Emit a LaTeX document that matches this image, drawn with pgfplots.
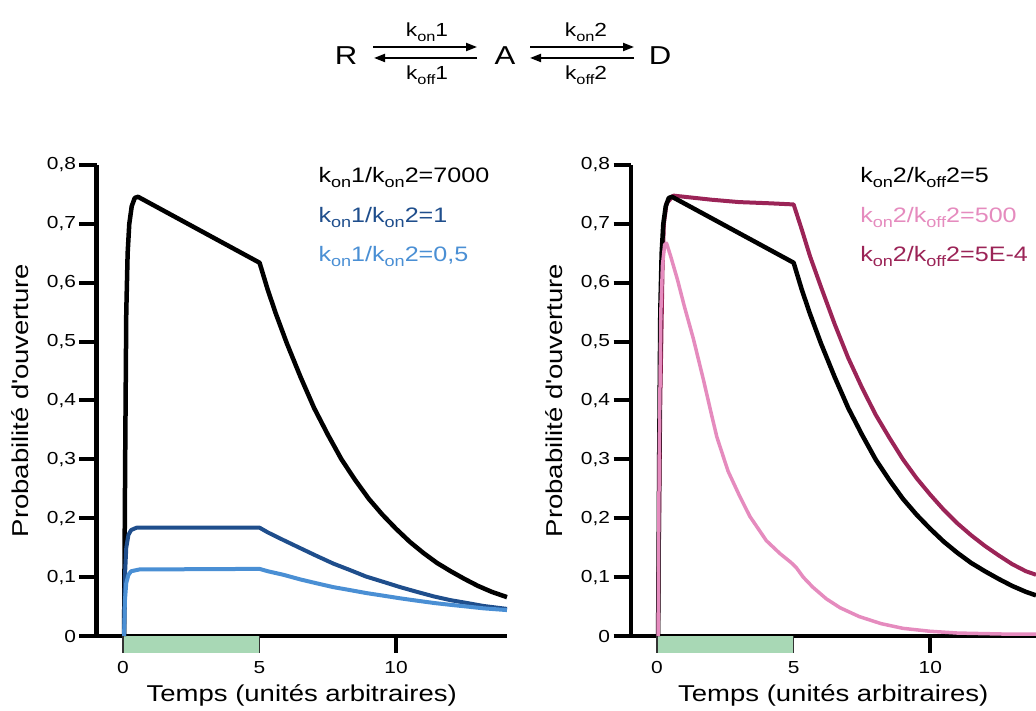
\documentclass[border=0pt]{standalone}
\usepackage{pgfplots}
\pgfplotsset{compat=1.18}
\usepackage{fontspec}
\setmainfont{Liberation Sans}[FakeStretch=1.2]
\usetikzlibrary{arrows.meta}
\definecolor{dblue}{RGB}{31,78,140}
\definecolor{lblue}{RGB}{74,143,212}
\definecolor{pinkc}{RGB}{229,139,190}
\definecolor{magc}{RGB}{155,36,87}
\definecolor{greenbar}{RGB}{168,216,181}
\newcommand{\ks}[1]{k\raisebox{-0.22em}{\scalebox{0.72}{#1}}}
\pgfplotsset{
  common/.style={
    scale only axis, height=471bp,
    ymin=0, ymax=0.8, xmin=-0.97,
    axis x line=bottom, axis y line=left,
    axis line style={line width=4bp, -},
    ytick={0,0.1,...,0.8},
    xtick={0,5,10},
    tick align=outside,
    major tick length=17bp,
    ytick style={line width=4bp, black},
    xtick style={draw=none},
    /pgf/number format/assume math mode=true,
    /pgf/number format/use comma,
    yticklabel style={font=\fontsize{17.5}{20}\selectfont, /pgf/number format/fixed},
    xticklabel style={font=\fontsize{17.5}{20}\selectfont, yshift=-5bp},
    label style={font=\fontsize{23}{27}\selectfont},
    xlabel={Temps (unités arbitraires)},
    ylabel={Probabilité d\textquotesingle ouverture},
    ylabel style={yshift=11bp},
    xlabel style={yshift=-4bp},
    clip=false,
  }
}
\begin{document}
\begin{tikzpicture}
\path[use as bounding box] (0bp,0bp) rectangle (1036bp,711bp);
% scheme
\begin{scope}[font=\fontsize{26}{30}\selectfont]
\node[anchor=base] at (346bp,646bp) {R};
\node[anchor=base] at (505bp,646bp) {A};
\node[anchor=base] at (660bp,646bp) {D};
\end{scope}
\draw[line width=2bp, -{Triangle[length=11bp,width=8bp]}] (373bp,664bp) -- (477bp,664bp);
\draw[line width=2bp, -{Triangle[length=11bp,width=8bp]}] (477bp,653bp) -- (374bp,653bp);
\draw[line width=2bp, -{Triangle[length=11bp,width=8bp]}] (530bp,664bp) -- (634bp,664bp);
\draw[line width=2bp, -{Triangle[length=11bp,width=8bp]}] (634bp,653bp) -- (530bp,653bp);
\begin{scope}[font=\fontsize{19}{22}\selectfont]
\node[anchor=base] at (427bp,674bp) {\ks{on}1};
\node[anchor=base] at (427bp,631bp) {\ks{off}1};
\node[anchor=base] at (586bp,674bp) {\ks{on}2};
\node[anchor=base] at (586bp,631bp) {\ks{off}2};
\end{scope}

% left axis
\begin{axis}[common, at={(96.5bp,75bp)}, anchor=south west, width=410.5bp, xmax=14.06]
\fill[greenbar] (axis cs:0,0) rectangle (axis cs:5,-0.029);
\draw[line width=1.2bp, black!80] (axis cs:0,0) -- (axis cs:0,-0.029);
\draw[line width=1.2bp, black!80] (axis cs:5,0) -- (axis cs:5,-0.029);
\draw[line width=4bp] (axis cs:10,0) -- (axis cs:10,-0.029);
\addplot[black, line width=4.5bp, line join=round] coordinates {
(0.04,0)(0.08,0.3)(0.12,0.55)(0.17,0.65)(0.23,0.70)(0.32,0.73)(0.43,0.744)(0.55,0.746)
(5,0.634)(5.3,0.588)(5.6,0.547)(6,0.497)(6.5,0.44)(7,0.387)(7.5,0.342)(8,0.300)(8.5,0.265)
(9,0.233)(9.5,0.206)(10,0.182)(10.5,0.160)(11,0.141)(11.5,0.124)(12,0.110)(12.5,0.097)
(13,0.085)(13.5,0.075)(14.06,0.066)};
\addplot[dblue, line width=4bp, line join=round] coordinates {
(0.04,0)(0.07,0.1)(0.12,0.15)(0.2,0.172)(0.3,0.18)(0.5,0.184)(5,0.184)(5.3,0.176)(5.87,0.163)
(6.5,0.149)(7.09,0.136)(7.7,0.123)(8.31,0.112)(8.9,0.101)(9.53,0.092)(10.15,0.083)(10.76,0.075)
(11.4,0.067)(11.98,0.061)(12.6,0.056)(13.2,0.051)(14.06,0.046)};
\addplot[lblue, line width=4bp, line join=round] coordinates {
(0.04,0)(0.07,0.06)(0.12,0.09)(0.2,0.104)(0.3,0.11)(0.6,0.113)(5,0.114)(5.3,0.11)(5.87,0.104)
(6.5,0.096)(7.09,0.0895)(7.7,0.083)(8.31,0.078)(8.9,0.073)(9.53,0.0685)(10.15,0.064)(10.76,0.060)
(11.4,0.056)(11.98,0.053)(12.6,0.05)(13.2,0.047)(14.06,0.044)};
\begin{scope}[font=\fontsize{21}{25}\selectfont]
\node[anchor=base west, black] at (axis cs:7.03,0.770) {\ks{on}1/\ks{on}2=7000};
\node[anchor=base west, dblue] at (axis cs:7.03,0.702) {\ks{on}1/\ks{on}2=1};
\node[anchor=base west, lblue] at (axis cs:7.03,0.636) {\ks{on}1/\ks{on}2=0,5};
\end{scope}
\end{axis}

% right axis
\begin{axis}[common, at={(630.5bp,75bp)}, anchor=south west, width=405.5bp, xmax=13.87]
\fill[greenbar] (axis cs:0,0) rectangle (axis cs:5,-0.029);
\draw[line width=1.2bp, black!80] (axis cs:0,0) -- (axis cs:0,-0.029);
\draw[line width=1.2bp, black!80] (axis cs:5,0) -- (axis cs:5,-0.029);
\draw[line width=4bp] (axis cs:10,0) -- (axis cs:10,-0.029);
\addplot[magc, line width=4bp, line join=round] coordinates {
(0.04,0)(0.12,0.4)(0.2,0.62)(0.25,0.70)(0.35,0.735)(0.6,0.748)(1,0.746)(2,0.741)(3,0.737)(4.1,0.735)
(5,0.733)(5.3,0.690)(5.6,0.645)(6,0.593)(6.5,0.53)(7,0.472)(7.5,0.422)(8,0.376)(8.5,0.337)
(9,0.300)(9.5,0.268)(10,0.24)(10.5,0.214)(11,0.191)(11.5,0.171)(12,0.153)(12.5,0.137)
(13,0.122)(13.5,0.110)(13.87,0.104)};
\addplot[black, line width=4.5bp, line join=round] coordinates {
(0.04,0)(0.08,0.3)(0.12,0.55)(0.17,0.65)(0.23,0.70)(0.32,0.73)(0.43,0.744)(0.55,0.746)
(5,0.634)(5.3,0.588)(5.6,0.547)(6,0.497)(6.5,0.44)(7,0.387)(7.5,0.342)(8,0.300)(8.5,0.265)
(9,0.233)(9.5,0.206)(10,0.182)(10.5,0.160)(11,0.141)(11.5,0.124)(12,0.110)(12.5,0.097)
(13,0.085)(13.5,0.075)(13.87,0.069)};
\addplot[pinkc, line width=3.5bp, line join=round] coordinates {
(0.04,0)(0.08,0.3)(0.14,0.55)(0.2,0.63)(0.28,0.665)(0.35,0.667)(0.5,0.645)(0.75,0.605)(1.0,0.56)
(1.33,0.505)(1.7,0.435)(2.0,0.375)(2.19,0.338)(2.6,0.28)(3.0,0.24)(3.4,0.203)(4.0,0.162)
(4.5,0.14)(4.9,0.125)(5.1,0.116)(5.35,0.1)(5.7,0.083)(6.2,0.063)(6.7,0.048)(7.4,0.033)
(8.2,0.021)(9,0.013)(10,0.008)(11,0.005)(12,0.004)(13,0.003)(13.87,0.003)};
\begin{scope}[font=\fontsize{21}{25}\selectfont]
\node[anchor=base west, black] at (axis cs:7.31,0.770) {\ks{on}2/\ks{off}2=5};
\node[anchor=base west, pinkc] at (axis cs:7.31,0.702) {\ks{on}2/\ks{off}2=500};
\node[anchor=base west, magc] at (axis cs:7.31,0.636) {\ks{on}2/\ks{off}2=5E-4};
\end{scope}
\end{axis}
\end{tikzpicture}
\end{document}
